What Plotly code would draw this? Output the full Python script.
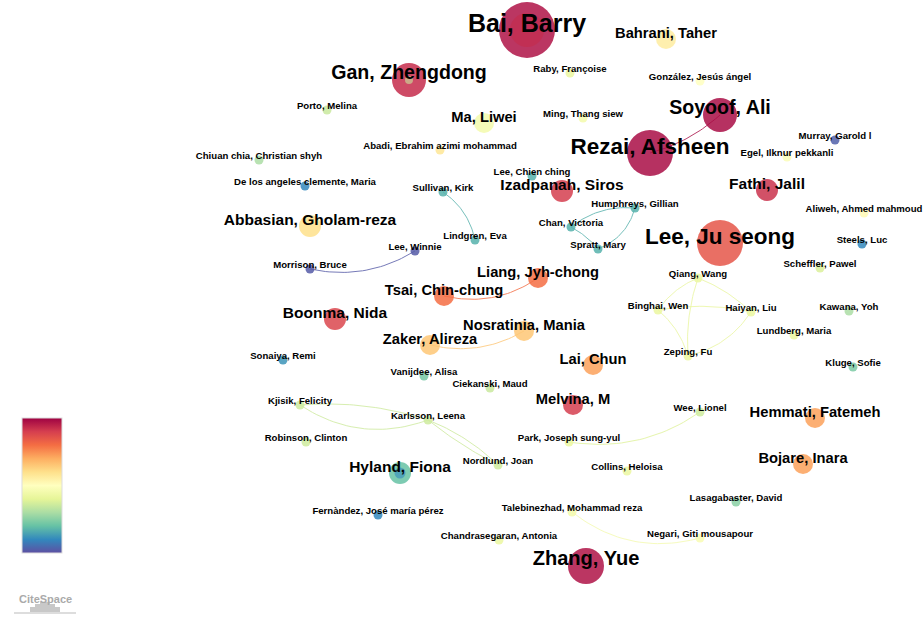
import numpy as np
import plotly.graph_objects as go
from plotly.colors import sample_colorscale

# --- datos de la red (coordenadas del layout en px, tamaño, año normalizado) ---
nombres = [
    "Bai, Barry", "Rezai, Afsheen", "Lee, Ju seong",
    "Gan, Zhengdong", "Soyoof, Ali", "Zhang, Yue",
    "Bahrani, Taher", "Ma, Liwei", "Izadpanah, Siros", "Fathi, Jalil",
    "Abbasian, Gholam-reza", "Liang, Jyh-chong", "Tsai, Chin-chung",
    "Boonma, Nida", "Nosratinia, Mania", "Zaker, Alireza", "Lai, Chun",
    "Melvina, M", "Hemmati, Fatemeh", "Hyland, Fiona", "Bojare, Inara",
    "Raby, Françoise", "González, Jesús ángel", "Porto, Melina",
    "Ming, Thang siew", "Murray, Garold l", "Abadi, Ebrahim azimi mohammad",
    "Egel, Ilknur pekkanli", "Chiuan chia, Christian shyh", "Lee, Chien ching",
    "De los angeles clemente, Maria", "Sullivan, Kirk", "Humphreys, Gillian",
    "Aliweh, Ahmed mahmoud", "Chan, Victoria", "Lindgren, Eva", "Steels, Luc",
    "Lee, Winnie", "Spratt, Mary", "Morrison, Bruce", "Scheffler, Pawel",
    "Qiang, Wang", "Binghai, Wen", "Haiyan, Liu", "Kawana, Yoh",
    "Lundberg, Maria", "Zeping, Fu", "Sonaiya, Remi", "Kluge, Sofie",
    "Vanijdee, Alisa", "Ciekanski, Maud", "Kjisik, Felicity", "Wee, Lionel",
    "Karlsson, Leena", "Park, Joseph sung-yul", "Robinson, Clinton",
    "Nordlund, Joan", "Collins, Heloisa", "Lasagabaster, David",
    "Fernàndez, José maría pérez", "Talebinezhad, Mohammad reza",
    "Negari, Giti mousapour", "Chandrasegaran, Antonia",
]
pos_x = [
    527, 650, 720,
    409, 720, 586,
    666, 484, 562, 767,
    310, 538, 444,
    335, 524, 430, 593,
    573, 815, 400, 803,
    570, 700, 327,
    583, 835, 440,
    787, 259, 532,
    305, 443, 635,
    864, 571, 475, 862,
    415, 598, 310, 820,
    698, 658, 751, 849,
    794, 688, 283, 853,
    424, 490, 300, 700,
    428, 569, 306,
    498, 627, 736,
    378, 572,
    700, 499,
]
pos_y = [
    30, 153, 243,
    80, 115, 566,
    39, 123, 191, 190,
    226, 278, 296,
    319, 331, 345, 365,
    405, 418, 473, 464,
    73, 81, 110,
    118, 140, 150,
    157, 160, 176,
    186, 192, 208,
    213, 227, 240, 244,
    251, 249, 269, 268,
    278, 310, 312, 311,
    335, 356, 360, 367,
    376, 388, 405, 412,
    420, 442, 442,
    465, 471, 502,
    515, 512,
    538, 540,
]
diametro = [
    56, 46, 46,
    34, 34, 36,
    20, 20, 22, 22,
    22, 20, 20,
    22, 20, 20, 20,
    20, 20, 22, 20,
] + [9] * 42
anio = [
    0.97, 0.98, 0.85,
    0.93, 0.98, 0.97,
    0.56, 0.45, 0.9, 0.92,
    0.6, 0.8, 0.8,
    0.88, 0.65, 0.65, 0.72,
    0.9, 0.72, 0.2, 0.72,
    0.42, 0.5, 0.35,
    0.45, 0.03, 0.58,
    0.48, 0.3, 0.17,
    0.1, 0.17, 0.17,
    0.52, 0.17, 0.17, 0.1,
    0.02, 0.17, 0.02, 0.38,
    0.42, 0.42, 0.42, 0.3,
    0.42, 0.42, 0.12, 0.23,
    0.22, 0.35, 0.36, 0.36,
    0.36, 0.42, 0.36,
    0.36, 0.42, 0.25,
    0.1, 0.45,
    0.47, 0.42,
]

# anillos internos (nodo, diámetro, año)
anillo_nodo = ["Hyland, Fiona", "Gan, Zhengdong", "Bai, Barry"]
anillo_diam = [11, 8, 34]
anillo_anio = [0.1, 0.35, 0.93]

# enlaces: (origen, destino, curvatura)
enlaces = [
    ("Rezai, Afsheen", "Soyoof, Ali", 0.12),
    ("Sullivan, Kirk", "Lindgren, Eva", -0.2),
    ("Lee, Winnie", "Morrison, Bruce", -0.2),
    ("Humphreys, Gillian", "Chan, Victoria", 0.2),
    ("Chan, Victoria", "Spratt, Mary", -0.1),
    ("Humphreys, Gillian", "Spratt, Mary", -0.25),
    ("Tsai, Chin-chung", "Liang, Jyh-chong", 0.22),
    ("Zaker, Alireza", "Nosratinia, Mania", 0.2),
    ("Qiang, Wang", "Binghai, Wen", 0.15),
    ("Qiang, Wang", "Haiyan, Liu", -0.1),
    ("Qiang, Wang", "Zeping, Fu", 0.1),
    ("Binghai, Wen", "Haiyan, Liu", -0.1),
    ("Binghai, Wen", "Zeping, Fu", -0.15),
    ("Haiyan, Liu", "Zeping, Fu", -0.2),
    ("Kjisik, Felicity", "Karlsson, Leena", -0.1),
    ("Kjisik, Felicity", "Karlsson, Leena", 0.25),
    ("Karlsson, Leena", "Nordlund, Joan", -0.1),
    ("Karlsson, Leena", "Nordlund, Joan", 0.05),
    ("Wee, Lionel", "Park, Joseph sung-yul", -0.2),
    ("Talebinezhad, Mohammad reza", "Negari, Giti mousapour", 0.25),
]

ESCALA = "Spectral_r"
W, H = 924, 625

idx = {n: i for i, n in enumerate(nombres)}
fig = go.Figure()

# enlaces curvos (bezier cuadrática)
t = np.linspace(0, 1, 30)
for a, b, curv in enlaces:
    i, j = idx[a], idx[b]
    x0, y0, x1, y1 = pos_x[i], pos_y[i], pos_x[j], pos_y[j]
    mx, my = (x0 + x1) / 2, (y0 + y1) / 2
    dx, dy = x1 - x0, y1 - y0
    cx, cy = mx - dy * curv, my + dx * curv
    bx = (1 - t) ** 2 * x0 + 2 * (1 - t) * t * cx + t ** 2 * x1
    by = (1 - t) ** 2 * y0 + 2 * (1 - t) * t * cy + t ** 2 * y1
    col = sample_colorscale(ESCALA, [(anio[i] + anio[j]) / 2])[0]
    fig.add_trace(go.Scatter(x=bx, y=by, mode="lines", line=dict(color=col, width=1),
                             opacity=0.8, hoverinfo="skip", showlegend=False))

# nodos
fig.add_trace(go.Scatter(
    x=pos_x, y=pos_y, mode="markers", text=nombres, hoverinfo="text",
    marker=dict(size=diametro, color=anio, colorscale=ESCALA, cmin=0, cmax=1,
                opacity=0.85, line=dict(width=0),
                colorbar=dict(x=22 / W, xanchor="left", y=1 - 553 / H, yanchor="bottom",
                              lenmode="pixels", len=135, thicknessmode="pixels", thickness=40,
                              showticklabels=False, ticks="", outlinewidth=1,
                              outlinecolor="#dddddd", xpad=0, ypad=0)),
    showlegend=False))

ax = [pos_x[idx[n]] for n in anillo_nodo]
ay = [pos_y[idx[n]] for n in anillo_nodo]
fig.add_trace(go.Scatter(
    x=ax, y=ay, mode="markers", hoverinfo="skip", showlegend=False,
    marker=dict(size=anillo_diam, color=anillo_anio, colorscale=ESCALA, cmin=0, cmax=1,
                opacity=0.6, line=dict(width=0))))

# etiquetas: tamaño de fuente según el tamaño del nodo
d = np.array(diametro, dtype=float)
fuente = np.interp(d, [9, 21, 34, 46, 56], [9.6, 15.2, 19.6, 22.5, 25])
desp = np.interp(d, [9, 21, 34, 56], [3, 5, 6, 4])
fig.add_trace(go.Scatter(
    x=pos_x, y=np.array(pos_y) - desp, text=nombres, mode="text",
    textposition="middle center",
    textfont=dict(family="Liberation Sans", size=fuente.tolist(), color="#000000", weight="bold"),
    hoverinfo="skip", showlegend=False))

# logo
fig.add_annotation(x=45, y=599, text="<b>CiteSpace</b>", showarrow=False,
                   font=dict(family="Liberation Sans", size=11, color="#aaaaaa"))
for x0, x1, y0 in [(30, 60, 607), (35, 55, 604), (40, 50, 602)]:
    fig.add_shape(type="rect", x0=x0, x1=x1, y0=y0, y1=612, line_width=0,
                  fillcolor="#c8c8c8", layer="below")
fig.add_shape(type="line", x0=14, x1=76, y0=613, y1=613, line=dict(color="#bbbbbb", width=1))

fig.update_layout(
    width=W, height=H, margin=dict(l=0, r=0, t=0, b=0),
    plot_bgcolor="white", paper_bgcolor="white",
    xaxis=dict(range=[0, W], visible=False, fixedrange=True),
    yaxis=dict(range=[H, 0], visible=False, fixedrange=True),
)
fig.write_html("out.html", config={"displayModeBar": False},
               post_script="document.body.style.margin='0';")
